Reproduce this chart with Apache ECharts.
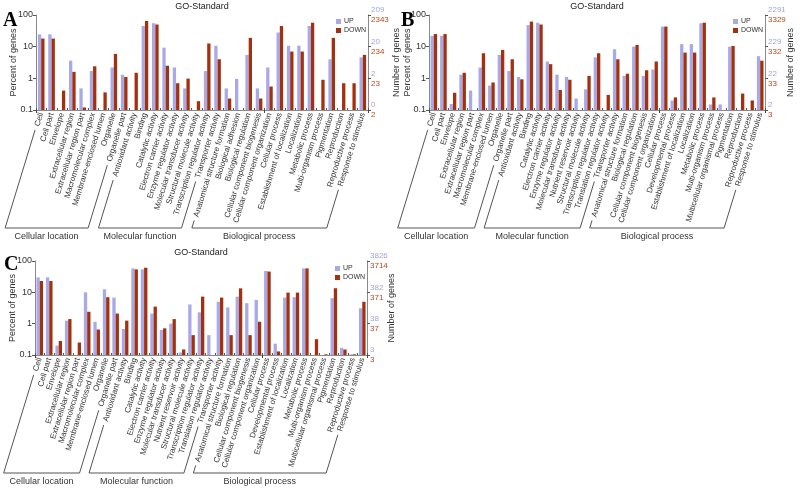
<!DOCTYPE html>
<html><head><meta charset="utf-8">
<script src="https://cdn.jsdelivr.net/npm/echarts@6/dist/echarts.min.js"></script>
<style>html,body{margin:0;padding:0;background:#fff}#c{width:800px;height:489px}</style>
</head><body><div id="c"></div>
<script>
// ---------- DATA ----------
const catsA = ['Cell','Cell part','Envelope','Extracellular region','Extracellular region part','Macromolecular complex','Membrane-enclosed lumen','Organelle','Organelle part','Antioxidant activity','Binding','Catalytic activity','Electron carrier activity','Enzyme regulator activity','Molecular transducer activity','Structural molecule activity','Transcription regulator activity','Transporter activity','Anatomical structure formation','Biological adhesion','Biological regulation','Cellular component biogenesis','Cellular component organization','Cellular process','Establishment of localization','Localization','Metabolic process','Multi-organism process','Pigmentation','Reproduction','Reproductive process','Response to stimulus'];
const upA   = [24.5, 24.5, null, 3.6, 0.48, 1.7, null, 2.2, 1.3, null, 45, 55, 9.3, 2.2, 0.48, null, 1.7, 10.7, 0.48, 0.96, 5.5, 0.48, 2.2, 28, 10.7, 10.7, 45, null, 4, null, null, 4.6];
const downA = [18, 18, 0.41, 1.6, 0.12, 2.4, 0.36, 5.9, 1.1, 1.5, 65, 50, 2.5, 0.7, 0.98, 0.19, 12.6, 4, 0.23, null, 19, 0.23, 0.55, 45, 7, 7, 57, 0.9, 19, 0.7, 0.7, 5.5];
const groupSizesA = [9, 9, 14];
const upTicksA   = ['0', '2', '20', '209'];
const downTicksA = ['2', '23', '234', '2343'];

const catsBC = ['Cell','Cell part','Envelope','Extracellular region','Extracellular region part','Macromolecular complex','Membrane-enclosed lumen','Organelle','Organelle part','Antioxidant activity','Binding','Catalytic activity','Electron carrier activity','Enzyme regulator activity','Molecular transducer activity','Nutrient reservoir activity','Structural molecule activity','Transcription regulator activity','Translation regulator activity','Transporter activity','Anatomical structure formation','Biological regulation','Cellular component biogenesis','Cellular component organization','Cellular process','Developmental process','Establishment of localization','Localization','Metabolic process','Multi-organism process','Multicellular organismal process','Pigmentation','Reproduction','Reproductive process','Response to stimulus'];
const groupSizesBC = [9, 11, 15];

const upB   = [22, 22, 0.155, 1.3, 0.41, 2.2, 0.59, 5.5, 1.7, 1.1, 48, 57, 3.4, 1.3, 1.1, 0.23, 0.45, 4.6, null, 8.3, 1.2, 10, 1.2, 1.9, 43, 0.2, 12, 12, 55, 0.15, 0.15, 10, null, null, 5];
const downB = [25, 25, 0.35, 1.5, null, 6.2, 0.74, 7.9, 4, 0.93, 62, 50, 2.8, 0.43, 0.9, null, 1.2, 6.2, 0.3, 4, 1.4, 11.3, 1.8, 3.4, 43, 0.25, 6.5, 6.5, 57, 0.25, null, 10.5, 0.33, 0.2, 3.6];
const upTicksB   = ['2', '22', '229', '2291'];
const downTicksB = ['3', '33', '332', '3329'];

const upC   = [30, 30, 0.2, 1.25, null, 10, 1.15, 12.5, 6.8, 0.68, 58, 54, 2.1, 0.63, 1.0, 0.12, 4.1, 2.3, 0.43, 5, 3.3, 7.3, 4.5, 5.7, 48, 0.23, 6.8, 7, 58, null, null, 6.5, 0.17, 0.105, 3.1];
const downC = [23, 23, 0.28, 1.4, 0.25, 2.4, 0.65, 7, 2.1, 1.25, 54, 61, 3.5, 0.71, 1.4, 0.15, 0.43, 7.3, null, 6.8, 0.43, 13.4, 0.43, 1.15, 46, 0.13, 9.8, 9.8, 58, 0.32, 0.105, 13.5, 0.15, 0.105, 5];
const upTicksC   = ['3', '38', '382', '3826'];
const downTicksC = ['3', '37', '371', '3714'];

const percentTicks = ['0.1', '1', '10', '100'];
const groupNames = ['Cellular location', 'Molecular function', 'Biological process'];
const seriesNames = ['UP', 'DOWN'];
const chartTitle = 'GO-Standard';

// ---------- STYLE ----------
const UPC = '#a9a9e8', DNC = '#a3300e';
const UPL = '#a3a3de', DNL = '#c2461e';
const AXC = '#8a8a8a';
const FONT = '"Liberation Sans", Arial, sans-serif';
const ROT = 73, LFS = 8, LMARGIN = 3;

const panels = [
  {cats: catsA, up: upA, dn: downA, upT: upTicksA, dnT: downTicksA, groups: groupSizesA, letter: 'A',
   grid: {left: 36, top: 15, width: 332, height: 95}, letterPos: [3, 31], titleY: 7, legend: [336, 18], lGap: 18, rGap: 24},
  {cats: catsBC, up: upB, dn: downB, upT: upTicksB, dnT: downTicksB, groups: groupSizesBC, letter: 'B',
   grid: {left: 429, top: 15, width: 336, height: 95}, letterPos: [401, 31], titleY: 7, legend: [733, 18], lGap: 17, rGap: 21},
  {cats: catsBC, up: upC, dn: downC, upT: upTicksC, dnT: downTicksC, groups: groupSizesBC, letter: 'C',
   grid: {left: 35, top: 261, width: 332, height: 94}, letterPos: [4, 275], titleY: 253, legend: [335, 265], lGap: 18, rGap: 20}
];

const toAxis = v => (v == null ? null : Math.log10(v) + 1);

const option = {
  animation: false,
  backgroundColor: '#fff',
  textStyle: {fontFamily: FONT},
  grid: [], xAxis: [], yAxis: [], series: [], legend: [], graphic: []
};

panels.forEach((p, g) => {
  option.grid.push(Object.assign({show: false, containLabel: false, outerBoundsMode: 'none'}, p.grid));
  option.xAxis.push({
    type: 'category', gridIndex: g, data: p.cats, position: 'bottom',
    axisLine: {lineStyle: {color: AXC, width: 1}},
    axisTick: {show: true, length: 2, inside: true, lineStyle: {color: '#555'}},
    axisLabel: {interval: 0, rotate: ROT, fontSize: LFS, margin: LMARGIN, color: '#333', fontFamily: FONT},
    splitLine: {show: false}
  });
  option.xAxis.push({
    type: 'category', gridIndex: g, data: p.cats, position: 'top',
    axisLine: {lineStyle: {color: AXC, width: 1}},
    axisTick: {show: true, length: 3, inside: true, lineStyle: {color: '#444'}},
    axisLabel: {show: false}, splitLine: {show: false}
  });
  option.yAxis.push({
    type: 'value', gridIndex: g, min: 0, max: 3, interval: 1, position: 'left',
    axisLine: {show: true, lineStyle: {color: AXC}},
    axisTick: {show: true, length: 3, lineStyle: {color: '#555'}},
    splitLine: {show: false},
    axisLabel: {fontSize: 9, margin: 3, color: '#333', formatter: v => percentTicks[v]},
    name: 'Percent of genes', nameLocation: 'middle', nameGap: p.lGap, nameMoveOverlap: false,
    nameTextStyle: {fontSize: 9, color: '#333'}
  });
  option.yAxis.push({
    type: 'value', gridIndex: g, min: 0, max: 3, interval: 1, position: 'right',
    axisLine: {show: true, lineStyle: {color: AXC}},
    axisTick: {show: true, length: 3, lineStyle: {color: '#555'}},
    splitLine: {show: false},
    axisLabel: {margin: 3, align: 'left',
      formatter: v => '{u|' + p.upT[v] + '}\n{d|' + p.dnT[v] + '}',
      rich: {u: {color: UPL, fontSize: 8, lineHeight: 10}, d: {color: DNL, fontSize: 8, lineHeight: 10}}},
    name: 'Number of genes', nameLocation: 'middle', nameRotate: 90, nameGap: p.rGap, nameMoveOverlap: false,
    nameTextStyle: {fontSize: 9, color: '#333'}
  });
  [p.up, p.dn].forEach((arr, k) => {
    option.series.push({
      type: 'bar', name: seriesNames[k], xAxisIndex: 2 * g, yAxisIndex: 2 * g,
      data: arr.map(toAxis), barWidth: 3.3, barGap: '0%',
      itemStyle: {color: k === 0 ? UPC : DNC}
    });
  });
  option.legend.push({
    left: p.legend[0], top: p.legend[1], orient: 'vertical', padding: 0,
    itemWidth: 5, itemHeight: 5, itemGap: 2, icon: 'rect', data: seriesNames,
    textStyle: {fontSize: 7, color: '#333', padding: [0, 0, 0, -2]}
  });
  option.graphic.push({type: 'text', x: p.grid.left + p.grid.width / 2, y: p.titleY,
    style: {text: chartTitle, font: '9px ' + FONT, fill: '#222', align: 'center', verticalAlign: 'middle', textAlign: 'center', textVerticalAlign: 'middle'}});
  option.graphic.push({type: 'text', x: p.letterPos[0], y: p.letterPos[1],
    style: {text: p.letter, font: 'bold 20px "Liberation Serif", "Times New Roman", serif', fill: '#000', align: 'left', verticalAlign: 'bottom', textAlign: 'left', textVerticalAlign: 'bottom'}});
});

const chart = echarts.init(document.getElementById('c'), null, {renderer: 'canvas'});
chart.setOption(option);

// ---------- group brackets ----------
const ctx = document.createElement('canvas').getContext('2d');
ctx.font = LFS + 'px ' + FONT;
const th = ROT * Math.PI / 180, cs = Math.cos(th), sn = Math.sin(th);
const extra = [];
panels.forEach((p, g) => {
  const yb = p.grid.top + p.grid.height;
  const baseY = yb + 118;
  let start = 0;
  p.groups.forEach((n, k) => {
    const i0 = start, i1 = start + n - 1; start += n;
    const pt = i => {
      const x = chart.convertToPixel({xAxisIndex: 2 * g}, i);
      const d = LMARGIN + ctx.measureText(p.cats[i]).width + 4;
      return [x - d * cs, yb + d * sn];
    };
    const a = pt(i0), b = pt(i1);
    const ax = a[0] - (baseY - a[1]) * cs / sn;
    const bx = b[0] - (baseY - b[1]) * cs / sn;
    extra.push({type: 'polyline', shape: {points: [a, [ax, baseY], [bx, baseY], b]},
      style: {stroke: '#555', fill: null, lineWidth: 1}});
    extra.push({type: 'text', x: (ax + bx) / 2, y: baseY + 9,
      style: {text: groupNames[k], font: '9px ' + FONT, fill: '#333', align: 'center', verticalAlign: 'middle', textAlign: 'center', textVerticalAlign: 'middle'}});
  });
});
chart.setOption({graphic: option.graphic.concat(extra)});
</script></body></html>
